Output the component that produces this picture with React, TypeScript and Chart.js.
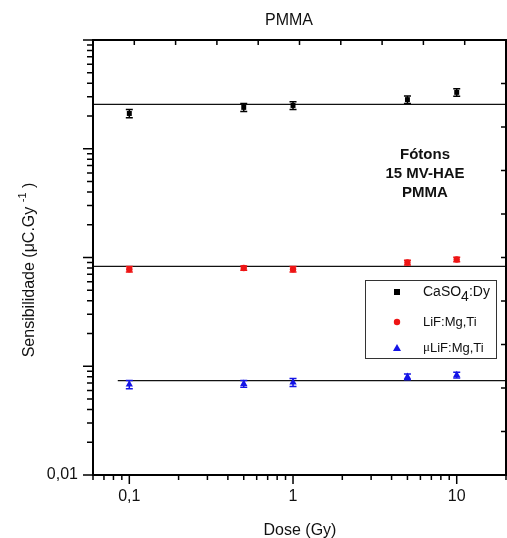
import { useEffect, useRef } from "react";
import { Chart, registerables } from "chart.js";
Chart.register(...registerables);

// ---- data ----
const doses = [0.1, 0.5, 1, 5, 10];
const caso4 = [21.1, 24.0, 25.0, 28.3, 33.0];
const caso4Err = [1.8, 2.0, 2.0, 2.3, 2.6];
const lif = [0.78, 0.8, 0.78, 0.9, 0.96];
const lifErr = [0.045, 0.035, 0.045, 0.045, 0.045];
const ulif = [0.068, 0.069, 0.071, 0.08, 0.083];
const ulifErr = [0.006, 0.005, 0.006, 0.005, 0.005];
const caso4Fit = 25.6;
const lifFit = 0.83;
const ulifFit = 0.0738;
const fitX = [0.06, 20];
const ulifFitX = [0.085, 20];
const xRange = [0.06, 20];
const yRange = [0.01, 100];
const xTickValues = [0.1, 1, 10];
const xTickLabels = ["0,1", "1", "10"];
const yTickValues = [0.01];
const yTickLabels = ["0,01"];
const legendLabels = ["CaSO", "LiF:Mg,Ti", "LiF:Mg,Ti"];
const noteLines = ["Fótons", "15 MV-HAE", "PMMA"];

const FONT = '"Liberation Sans", Arial, sans-serif';
const RED = "#ee1515";
const BLUE = "#1414e6";

const errSets = [caso4Err, lifErr, ulifErr];
const colors = ["#000000", RED, BLUE];

const decoPlugin = {
  id: "deco",
  afterDatasetsDraw(chart: any) {
    const ctx = chart.ctx;
    const ys = chart.scales.y;
    const vals = [caso4, lif, ulif];
    ctx.save();
    for (let d = 0; d < 3; d++) {
      const meta = chart.getDatasetMeta(d);
      ctx.strokeStyle = colors[d];
      ctx.lineWidth = 1.5;
      meta.data.forEach((pt: any, j: number) => {
        const v = vals[d][j];
        const e = errSets[d][j];
        const y1 = ys.getPixelForValue(v + e);
        const y2 = ys.getPixelForValue(v - e);
        ctx.beginPath();
        ctx.moveTo(pt.x, y1);
        ctx.lineTo(pt.x, y2);
        ctx.moveTo(pt.x - 3.5, y1);
        ctx.lineTo(pt.x + 3.5, y1);
        ctx.moveTo(pt.x - 3.5, y2);
        ctx.lineTo(pt.x + 3.5, y2);
        ctx.stroke();
      });
    }
    ctx.restore();
  },
  afterDraw(chart: any) {
    const ctx = chart.ctx;
    const { left, right, top, bottom } = chart.chartArea;
    const xs = chart.scales.x;
    const ys = chart.scales.y;
    const xt = chart.scales.xTop;
    const yr = chart.scales.yRight;
    ctx.save();
    ctx.strokeStyle = "#000";
    ctx.lineWidth = 2;
    ctx.strokeRect(left, top, right - left, bottom - top);
    ctx.lineWidth = 1.5;
    ctx.beginPath();
    for (let d = -3; d <= 2; d++) {
      for (let m = 1; m <= 9; m++) {
        const v = m * Math.pow(10, d);
        const major = m === 1;
        if (v >= yRange[0] * 0.999 && v <= yRange[1] * 1.001) {
          const py = ys.getPixelForValue(v);
          ctx.moveTo(left - (major ? 10 : 6), py);
          ctx.lineTo(left, py);
        }
        if (v >= xRange[0] * 0.999 && v <= xRange[1] * 1.001) {
          const px = xs.getPixelForValue(v);
          ctx.moveTo(px, bottom);
          ctx.lineTo(px, bottom + (major ? 9 : 5));
        }
      }
    }
    for (let i = 1; i < 10; i++) {
      const px = xt.getPixelForValue(i);
      ctx.moveTo(px, top);
      ctx.lineTo(px, top + 5);
      const py = yr.getPixelForValue(i);
      ctx.moveTo(right, py);
      ctx.lineTo(right - 5, py);
    }
    ctx.stroke();

    // title
    ctx.fillStyle = "#111";
    ctx.textAlign = "center";
    ctx.textBaseline = "middle";
    ctx.font = `16px ${FONT}`;
    ctx.fillText("PMMA", 289, 21);
    // x title
    ctx.font = `16px ${FONT}`;
    ctx.fillText("Dose (Gy)", 300, 531);

    // y title with superscript
    ctx.save();
    ctx.translate(30, 270);
    ctx.rotate(-Math.PI / 2);
    ctx.textAlign = "left";
    const mainFont = `16px ${FONT}`;
    const supFont = `11px ${FONT}`;
    ctx.font = mainFont;
    const p1 = "Sensibilidade (";
    const pMu = "\u03bc";
    const p2 = "C.Gy ";
    const w1 = ctx.measureText(p1).width;
    const wMu = ctx.measureText(pMu).width;
    const w2 = ctx.measureText(p2).width;
    ctx.font = supFont;
    const wSup = ctx.measureText("-1").width;
    ctx.font = mainFont;
    const p3 = " )";
    const w3 = ctx.measureText(p3).width;
    let x0 = -(w1 + wMu + w2 + wSup + w3) / 2;
    ctx.fillText(p1, x0, 0);
    x0 += w1;
    ctx.fillText(pMu, x0, 0);
    x0 += wMu;
    ctx.fillText(p2, x0, 0);
    x0 += w2;
    ctx.font = supFont;
    ctx.fillText("-1", x0, -7);
    x0 += wSup;
    ctx.font = mainFont;
    ctx.fillText(p3, x0, 0);
    ctx.restore();

    // annotation
    ctx.font = `bold 15px ${FONT}`;
    ctx.textAlign = "center";
    noteLines.forEach((t, i) => ctx.fillText(t, 425, 155 + i * 19));

    // legend
    ctx.lineWidth = 1;
    ctx.strokeStyle = "#333";
    ctx.strokeRect(365.5, 280.5, 131, 78);
    const rowsY = [292, 322, 348];
    const mx = 397;
    ctx.fillStyle = "#000";
    ctx.fillRect(mx - 3, rowsY[0] - 3, 6, 6);
    ctx.fillStyle = RED;
    ctx.beginPath();
    ctx.arc(mx, rowsY[1], 3.2, 0, Math.PI * 2);
    ctx.fill();
    ctx.fillStyle = BLUE;
    ctx.beginPath();
    ctx.moveTo(mx, rowsY[2] - 4);
    ctx.lineTo(mx + 4, rowsY[2] + 3);
    ctx.lineTo(mx - 4, rowsY[2] + 3);
    ctx.closePath();
    ctx.fill();

    ctx.fillStyle = "#111";
    ctx.textAlign = "left";
    ctx.textBaseline = "middle";
    const tx = 423;
    ctx.font = `14px ${FONT}`;
    ctx.fillText(legendLabels[0], tx, rowsY[0]);
    let wx = tx + ctx.measureText(legendLabels[0]).width;
    ctx.fillText("4", wx, rowsY[0] + 5);
    wx += ctx.measureText("4").width;
    ctx.fillText(":Dy", wx, rowsY[0]);
    ctx.font = `13px ${FONT}`;
    ctx.fillText(legendLabels[1], tx, rowsY[1]);
    ctx.font = `13px "Liberation Serif", serif`;
    ctx.fillText("\u03bc", tx, rowsY[2]);
    const wm = ctx.measureText("\u03bc").width;
    ctx.font = `13px ${FONT}`;
    ctx.fillText(legendLabels[2], tx + wm, rowsY[2]);
    ctx.restore();
  },
};

export default function App() {
  const ref = useRef<HTMLCanvasElement | null>(null);
  useEffect(() => {
    if (!ref.current) return;
    const pts = (arr: number[]) => doses.map((x, i) => ({ x, y: arr[i] }));
    const line = (xr: number[], v: number) => [
      { x: xr[0], y: v },
      { x: xr[1], y: v },
    ];
    const chart = new Chart(ref.current, {
      type: "scatter",
      data: {
        datasets: [
          {
            label: "CaSO4:Dy",
            data: pts(caso4),
            pointStyle: "rect",
            pointRadius: 3.5,
            backgroundColor: "#000",
            borderColor: "#000",
            borderWidth: 0,
          },
          {
            label: "LiF:Mg,Ti",
            data: pts(lif),
            pointStyle: "circle",
            pointRadius: 3.2,
            backgroundColor: RED,
            borderColor: RED,
            borderWidth: 0,
          },
          {
            label: "μLiF:Mg,Ti",
            data: pts(ulif),
            pointStyle: "triangle",
            pointRadius: 4.2,
            backgroundColor: BLUE,
            borderColor: BLUE,
            borderWidth: 0,
          },
          {
            data: line(fitX, caso4Fit),
            showLine: true,
            borderColor: "#111",
            borderWidth: 1.3,
            pointRadius: 0,
          },
          {
            data: line(fitX, lifFit),
            showLine: true,
            borderColor: "#111",
            borderWidth: 1.3,
            pointRadius: 0,
          },
          {
            data: line(ulifFitX, ulifFit),
            showLine: true,
            borderColor: "#111",
            borderWidth: 1.3,
            pointRadius: 0,
          },
        ],
      } as any,
      options: {
        animation: false,
        responsive: false,
        maintainAspectRatio: false,
        devicePixelRatio: 1,
        layout: { autoPadding: false, padding: { top: 40, right: 1, left: 0, bottom: 0 } },
        plugins: { legend: { display: false }, tooltip: { enabled: false }, title: { display: false } },
        scales: {
          x: {
            type: "logarithmic",
            position: "bottom",
            min: xRange[0],
            max: xRange[1],
            grid: { display: false, drawTicks: false },
            border: { display: false },
            afterBuildTicks: (s: any) => {
              s.ticks = xTickValues.map((v) => ({ value: v }));
            },
            afterFit: (s: any) => {
              s.height = 63;
              s.paddingRight = 0;
              s.paddingLeft = 0;
            },
            ticks: {
              autoSkip: false,
              maxRotation: 0,
              padding: 12,
              color: "#111",
              font: { family: FONT, size: 16 },
              callback: (v: any) => {
                const i = xTickValues.indexOf(Number(v));
                return i >= 0 ? xTickLabels[i] : "";
              },
            },
          },
          y: {
            type: "logarithmic",
            position: "left",
            min: yRange[0],
            max: yRange[1],
            grid: { display: false, drawTicks: false },
            border: { display: false },
            afterBuildTicks: (s: any) => {
              s.ticks = yTickValues.map((v) => ({ value: v }));
            },
            afterFit: (s: any) => {
              s.width = 93;
              s.paddingTop = 0;
              s.paddingBottom = 0;
            },
            ticks: {
              autoSkip: false,
              padding: 15,
              color: "#111",
              font: { family: FONT, size: 16 },
              callback: (v: any) => {
                const i = yTickValues.indexOf(Number(v));
                return i >= 0 ? yTickLabels[i] : "";
              },
            },
          },
          xTop: {
            type: "linear",
            position: "top",
            min: 0,
            max: 10,
            grid: { display: false, drawTicks: false },
            border: { display: false },
            ticks: { display: false },
            afterFit: (s: any) => {
              s.height = 0;
              s.paddingLeft = 0;
              s.paddingRight = 0;
            },
          },
          yRight: {
            type: "linear",
            position: "right",
            min: 0,
            max: 10,
            grid: { display: false, drawTicks: false },
            border: { display: false },
            ticks: { display: false },
            afterFit: (s: any) => {
              s.width = 0;
              s.paddingTop = 0;
              s.paddingBottom = 0;
            },
          },
        },
      } as any,
      plugins: [decoPlugin],
    });
    return () => chart.destroy();
  }, []);
  return (
    <div style={{ position: "absolute", left: 0, top: 0, width: 507, height: 538, background: "#fff" }}>
      <canvas ref={ref} width={507} height={538} style={{ display: "block" }} />
    </div>
  );
}
